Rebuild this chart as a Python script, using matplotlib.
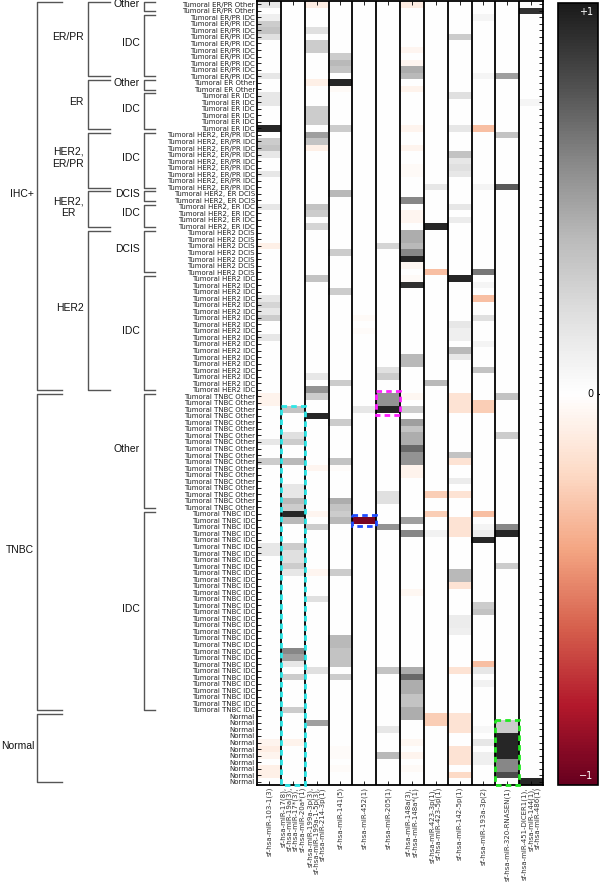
import numpy as np
import matplotlib
matplotlib.use("Agg")
import matplotlib.pyplot as plt
from matplotlib.patches import Rectangle

# sample groups, top to bottom (label, number of rows)
row_groups = [
    ("Tumoral ER/PR Other", 2), ("Tumoral ER/PR IDC", 10),
    ("Tumoral ER Other", 2), ("Tumoral ER IDC", 6),
    ("Tumoral HER2, ER/PR IDC", 9), ("Tumoral HER2, ER DCIS", 2),
    ("Tumoral HER2, ER IDC", 4), ("Tumoral HER2 DCIS", 7),
    ("Tumoral HER2 IDC", 18), ("Tumoral TNBC Other", 18),
    ("Tumoral TNBC IDC", 31), ("Normal", 11),
]

# bracket hierarchy (label, first row, last row)
level1 = [("IHC+", 0, 59), ("TNBC", 60, 108), ("Normal", 109, 119)]
level2 = [("ER/PR", 0, 11), ("ER", 12, 19), ("HER2,\nER/PR", 20, 28),
          ("HER2,\nER", 29, 34), ("HER2", 35, 59)]
level3 = [("Other", 0, 1), ("IDC", 2, 11), ("Other", 12, 13), ("IDC", 14, 19),
          ("IDC", 20, 28), ("DCIS", 29, 30), ("IDC", 31, 34), ("DCIS", 35, 41),
          ("IDC", 42, 59), ("Other", 60, 77), ("IDC", 78, 108)]

mirna_labels = [
    "sf-hsa-miR-103-1(3)",
    "sf-hsa-miR-17(8),\nsf-hsa-miR-19a(3),\nsf-hsa-miR-17*(3),\nsf-hsa-miR-20a*(1)",
    "sf-hsa-miR-199a-3p(3),\nsf-hsa-miR-199a-1-5p(3),\nsf-hsa-miR-214-3p(1)",
    "sf-hsa-miR-141(5)",
    "sf-hsa-miR-452(1)",
    "sf-hsa-miR-205(1)",
    "sf-hsa-miR-148a(3),\nsf-hsa-miR-148a*(1)",
    "sf-hsa-miR-423-3p(1),\nsf-hsa-miR-423-5p(1)",
    "sf-hsa-miR-142-5p(1)",
    "sf-hsa-miR-193a-3p(2)",
    "sf-hsa-miR-320-RNASEN(1)",
    "sf-hsa-miR-451-DICER1(1),\nsf-hsa-miR-144(1),\nsf-hsa-miR-486(1)",
]

# non-zero cells per column: {row: value}
mir_103 = {0: 0.15, 2: 0.1, 3: 0.3, 4: 0.35, 5: 0.2, 11: 0.15, 14: 0.15, 15: 0.15,
           19: 0.95, 21: 0.3, 22: 0.35, 23: 0.15, 26: 0.15, 31: 0.15, 37: -0.08,
           45: 0.15, 46: 0.25, 47: 0.15, 48: 0.3, 51: 0.15, 60: -0.07, 61: -0.07,
           67: 0.15, 70: 0.3, 83: 0.15, 84: 0.15, 113: -0.06, 114: -0.1, 115: -0.06,
           117: -0.08, 118: -0.08}
mir_17 = {62: 0.35, 66: 0.2, 67: 0.3, 70: 0.4, 74: 0.15, 75: 0.15, 76: 0.4, 77: 0.3,
          78: 0.95, 79: 0.4, 83: 0.3, 84: 0.2, 85: 0.2, 86: 0.3, 87: 0.15, 99: 0.6,
          100: 0.5, 101: 0.15, 103: 0.3, 108: 0.3, 113: -0.07}
mir_199a = {0: -0.1, 4: 0.2, 6: 0.3, 7: 0.3, 12: -0.08, 16: 0.3, 17: 0.3, 18: 0.3,
            20: 0.5, 21: 0.35, 22: -0.08, 31: 0.35, 32: 0.3, 34: 0.25, 42: 0.35,
            57: 0.15, 59: 0.55, 60: 0.3, 63: 0.95, 71: -0.05, 78: -0.05, 80: 0.3,
            87: -0.05, 91: 0.2, 102: 0.2, 110: 0.5}
mir_141 = {8: 0.3, 9: 0.4, 10: 0.35, 12: 0.95, 13: -0.03, 19: 0.3, 29: 0.4, 38: 0.3,
           44: 0.3, 58: 0.3, 64: 0.3, 70: 0.35, 71: -0.02, 76: 0.45, 77: 0.35,
           78: 0.3, 79: 0.4, 87: 0.3, 97: 0.4, 98: 0.4, 99: 0.35, 100: 0.35,
           101: 0.35, 103: 0.3, 114: -0.02, 115: -0.02, 117: -0.02}
mir_452 = {48: -0.03, 50: -0.02, 62: 0.15, 79: -0.95}
mir_205 = {37: 0.25, 56: 0.2, 57: 0.3, 60: 0.55, 61: 0.55, 62: 0.95, 75: 0.2,
           76: 0.2, 80: 0.55, 102: 0.35, 111: 0.15, 115: 0.4}
mir_148a = {0: -0.1, 7: -0.05, 9: -0.05, 10: 0.45, 11: 0.4, 13: -0.07, 19: -0.06,
            22: -0.06, 25: -0.03, 26: -0.03, 30: 0.6, 32: -0.05, 33: -0.05,
            35: 0.45, 36: 0.45, 37: 0.4, 38: 0.6, 39: 0.95, 40: -0.04, 42: -0.03,
            43: 0.9, 54: 0.4, 55: 0.4, 60: -0.04, 62: 0.3, 64: 0.5, 65: 0.35,
            66: 0.45, 67: 0.45, 68: 0.7, 69: 0.55, 70: 0.55, 71: -0.07, 72: -0.07,
            79: 0.5, 81: 0.6, 90: -0.04, 102: 0.45, 103: 0.7, 104: 0.45, 105: 0.45,
            106: 0.35, 107: 0.35, 108: 0.45, 109: 0.45, 113: -0.04, 115: -0.06,
            117: -0.03}
mir_423 = {28: 0.15, 34: 0.95, 41: -0.3, 58: 0.4, 75: -0.25, 78: -0.25, 81: 0.08,
           109: -0.25, 110: -0.25}
mir_142 = {5: 0.3, 14: 0.2, 19: 0.15, 23: 0.35, 24: 0.15, 25: 0.2, 26: 0.15,
           31: 0.15, 33: 0.12, 42: 0.95, 49: 0.15, 50: 0.1, 51: 0.1, 53: 0.4,
           54: 0.15, 60: -0.15, 61: -0.15, 62: -0.15, 69: 0.35, 70: -0.15, 73: 0.12,
           75: -0.15, 79: -0.15, 80: -0.15, 81: -0.15, 87: 0.4, 88: 0.4, 89: -0.15,
           94: 0.12, 95: 0.12, 96: 0.1, 102: -0.15, 109: -0.15, 110: -0.15,
           111: -0.15, 114: -0.15, 115: -0.15, 116: -0.15, 118: -0.2}
mir_193a = {2: 0.06, 11: 0.06, 19: -0.3, 28: 0.07, 41: 0.65, 43: 0.06, 45: -0.3,
            48: 0.2, 52: 0.07, 56: 0.35, 61: -0.25, 62: -0.25, 78: -0.3, 80: 0.07,
            81: 0.12, 82: 0.95, 92: 0.3, 93: 0.35, 101: -0.3, 102: 0.15, 104: 0.08,
            111: 0.05, 113: 0.15, 115: 0.1, 116: 0.1}
mir_320 = {11: 0.5, 20: 0.35, 28: 0.75, 60: 0.35, 66: 0.3, 80: 0.6, 81: 0.95,
           86: 0.3, 110: 0.3, 111: 0.3, 112: 0.95, 113: 0.95, 114: 0.95, 115: 0.95,
           116: 0.6, 117: 0.6, 118: 0.8}
mir_451 = {1: 0.9, 15: 0.06, 119: 0.95}

col_values = [mir_103, mir_17, mir_199a, mir_141, mir_452, mir_205,
              mir_148a, mir_423, mir_142, mir_193a, mir_320, mir_451]

# highlighted blocks (column, first row, last row, colour)
highlights = [(1, 62, 119, "#2ee6e6"), (5, 60, 62, "#ff1eff"),
              (4, 79, 79, "#1e4bff"), (10, 110, 119, "#22e822")]

n_rows = sum(n for _, n in row_groups)
n_cols = len(mirna_labels)
row_labels = [lab for lab, n in row_groups for _ in range(n)]
matrix = np.zeros((n_rows, n_cols))
for j, col in enumerate(col_values):
    for i, v in col.items():
        matrix[i, j] = v

W, H = 600, 885
fig = plt.figure(figsize=(W / 100, H / 100), dpi=100)
heat_left, heat_right, heat_top, heat_bot = 257, 543, 1, 785
rect = [heat_left / W, 1 - heat_bot / H, (heat_right - heat_left) / W,
        (heat_bot - heat_top) / H]
ax = fig.add_axes(rect)
ax.imshow(matrix, cmap="RdGy", vmin=-1, vmax=1, aspect="auto",
          interpolation="nearest")
for x in np.arange(0.5, n_cols - 0.5):
    ax.axvline(x, color="black", lw=1.3)
for s in ax.spines.values():
    s.set_linewidth(1.3)

ax.set_yticks(range(n_rows))
ax.set_yticklabels(row_labels, fontsize=5.0, color="#222222")
ax.set_xticks(range(n_cols))
ax.set_xticklabels(mirna_labels, rotation=90, fontsize=5.0, color="#333333",
                   linespacing=0.95)
for t in ax.get_xticklabels():
    t.set_multialignment("right")
ax.tick_params(direction="in", length=3, width=0.6, top=True, right=True, pad=1.5)

for c, r0, r1, colr in highlights:
    pad = 0.35 if (r1 - r0) < 5 else 0.0
    ax.add_patch(Rectangle((c - 0.5, r0 - 0.5 - pad), 1, r1 - r0 + 1 + 2 * pad,
                           fill=False, ec=colr, lw=2.0, ls=(0, (2, 1.5)),
                           clip_on=False, zorder=5))

# bracket tree on the left
tree = fig.add_axes([0, rect[1], heat_left / W, rect[3]])
tree.set_xlim(0, heat_left)
tree.set_ylim(n_rows - 0.5, -0.5)
tree.axis("off")


def bracket(groups, x0, x1, lx):
    for label, r0, r1 in groups:
        top = r0 - 0.5 + 0.15
        bot = r1 + 0.5 - 0.45
        tree.plot([x1, x0, x0, x1], [top, top, bot, bot], color="#555555", lw=1)
        tree.text(lx, (r0 + r1) / 2 - 0.5, label, ha="right", va="center",
                  fontsize=7.5, family="Liberation Sans", multialignment="center",
                  color="#111111")


bracket(level1, 37, 62, 34)
bracket(level2, 88, 110, 84)
bracket(level3, 144, 155, 140)

# colour bar
cax = fig.add_axes([558 / W, 1 - heat_bot / H, 40 / W, 782 / H])
sm = matplotlib.cm.ScalarMappable(cmap="RdGy", norm=plt.Normalize(-1, 1))
cb = fig.colorbar(sm, cax=cax)
cb.set_ticks([0])
cb.set_ticklabels([""])
cax.tick_params(length=3, width=0.8)
cb.outline.set_linewidth(1.2)
cax.text(0.88, 0.995, "+1", transform=cax.transAxes, ha="right", va="top",
         color="white", fontsize=7)
cax.text(0.88, 0.5, "0", transform=cax.transAxes, ha="right", va="center",
         color="black", fontsize=7)
cax.text(0.88, 0.005, "\u22121", transform=cax.transAxes, ha="right",
         va="bottom", color="white", fontsize=7)

fig.savefig("out.png", dpi=100)
